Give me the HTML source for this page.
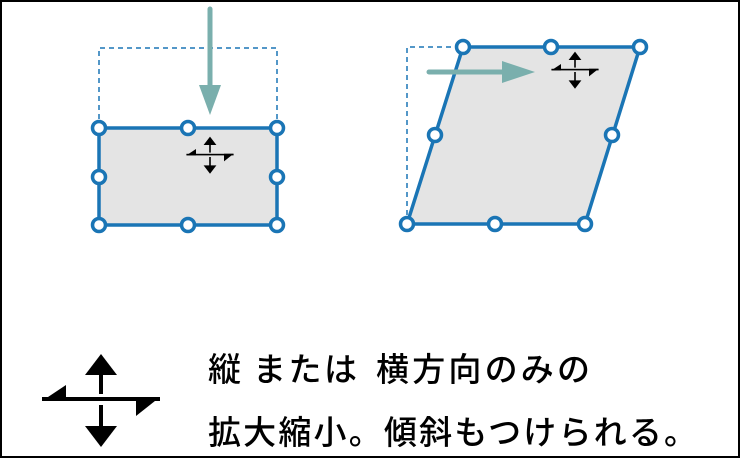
<!DOCTYPE html>
<html><head><meta charset="utf-8"><style>
html,body{margin:0;padding:0;background:#fff}
svg{display:block}
text{font-family:"Noto Sans CJK JP","Liberation Sans",sans-serif;font-size:33px;font-weight:500;fill:#000}
</style></head><body>
<svg width="740" height="458" viewBox="0 0 740 458" xmlns="http://www.w3.org/2000/svg">
<defs>
<g id="cur">
<polygon points="101,354 85,375 117,375" fill="#000"/>
<rect x="99" y="374" width="4" height="20" fill="#000"/>
<rect x="42" y="397" width="118" height="4" fill="#000"/>
<polygon points="42,401 66,385 66,401" fill="#000"/>
<polygon points="160,397 136,397 136,416" fill="#000"/>
<rect x="99" y="405" width="4" height="23" fill="#000"/>
<polygon points="101,447 85,426 117,426" fill="#000"/>
</g>
</defs>
<rect x="1" y="1" width="738" height="456" fill="#fff" stroke="#000" stroke-width="2"/>
<polyline points="99,128 99,48 277,48 277,128" fill="none" stroke="#1a75b5" stroke-width="1.5" stroke-dasharray="5,4"/>
<rect x="99" y="128" width="178" height="97" fill="#e4e4e4" stroke="#1a75b5" stroke-width="3.5"/>
<line x1="210" y1="9" x2="210" y2="95" stroke="#7aafad" stroke-width="5" stroke-linecap="round"/>
<polygon points="199,85 221,85 210,115" fill="#7aafad"/>
<g fill="#fff" stroke="#1a75b5" stroke-width="3.5">
<circle cx="99" cy="128" r="6.5"/><circle cx="188" cy="128" r="6.5"/><circle cx="277" cy="128" r="6.5"/>
<circle cx="99" cy="177" r="6.5"/><circle cx="277" cy="177" r="6.5"/>
<circle cx="99" cy="225" r="6.5"/><circle cx="188" cy="225" r="6.5"/><circle cx="277" cy="225" r="6.5"/>
</g>
<use href="#cur" transform="translate(210,155) scale(0.4) translate(-101,-400)"/>
<polyline points="407,224 407,47 463,47" fill="none" stroke="#1a75b5" stroke-width="1.5" stroke-dasharray="5,4"/>
<polygon points="463,47 640,47 585,224 407,224" fill="#e4e4e4" stroke="#1a75b5" stroke-width="3.5" stroke-linejoin="round"/>
<line x1="429" y1="72" x2="510" y2="72" stroke="#7aafad" stroke-width="5" stroke-linecap="round"/>
<polygon points="502,61 502,83 535,72" fill="#7aafad"/>
<g fill="#fff" stroke="#1a75b5" stroke-width="3.5">
<circle cx="463" cy="47" r="6.5"/><circle cx="551" cy="47" r="6.5"/><circle cx="640" cy="47" r="6.5"/>
<circle cx="435" cy="135" r="6.5"/><circle cx="612" cy="135" r="6.5"/>
<circle cx="407" cy="224" r="6.5"/><circle cx="495" cy="224" r="6.5"/><circle cx="585" cy="224" r="6.5"/>
</g>
<use href="#cur" transform="translate(575,70) scale(0.4) translate(-101,-400)"/>
<use href="#cur"/>
<text x="208" y="381">縦</text>
<text x="253" y="381" textLength="104" lengthAdjust="spacing">または</text>
<text x="376" y="381" textLength="214" lengthAdjust="spacing">横方向のみの</text>
<text x="208" y="444" textLength="489" lengthAdjust="spacing">拡大縮小。傾斜もつけられる。</text>
</svg>
</body></html>
